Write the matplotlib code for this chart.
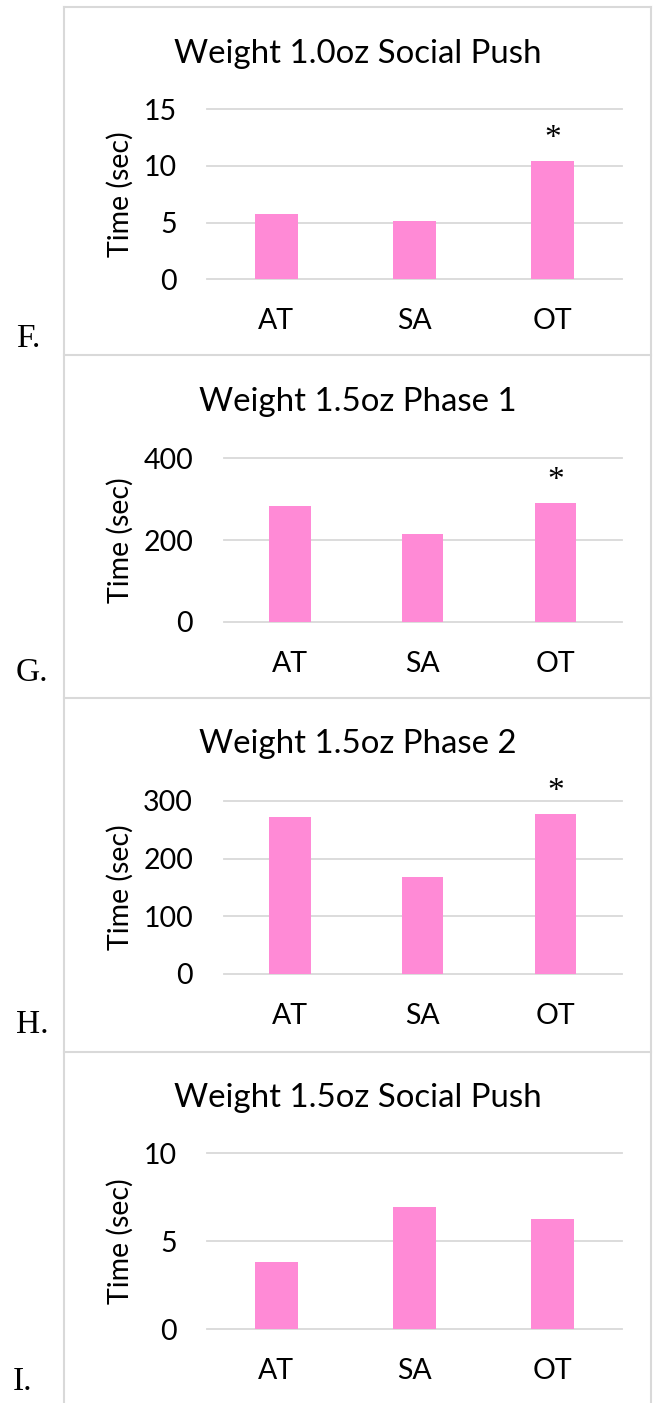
import matplotlib
matplotlib.use("Agg")
import matplotlib.pyplot as plt
from matplotlib.lines import Line2D

plt.rcParams['font.family'] = ['Lato', 'DejaVu Sans']

# data
groups = ["AT", "SA", "OT"]
titles = ["Weight 1.0oz Social Push", "Weight 1.5oz Phase 1",
          "Weight 1.5oz Phase 2", "Weight 1.5oz Social Push"]
letters = ["F.", "G.", "H.", "I."]
f_values = [5.74, 5.15, 10.4]
g_values = [283, 215, 290]
h_values = [272, 168, 277]
i_values = [3.84, 6.93, 6.25]
f_ticks = [0, 5, 10, 15]
g_ticks = [0, 200, 400]
h_ticks = [0, 100, 200, 300]
i_ticks = [0, 5, 10]
stars = [[False, False, True], [False, False, True],
         [False, False, True], [False, False, False]]

W, H = 659, 1403
fig = plt.figure(figsize=(W / 100, H / 100), dpi=100)

pink = "#FF8AD6"
grid_c = "#D9D9D9"

# pixel layout: axes box (left, top, right, bottom), title baseline, letter baseline
layout = [
    ((207.3, 109.3, 621.8, 279.3), 63, 347, 16),
    ((223.6, 458.3, 622.0, 621.7), 411, 681, 16),
    ((223.6, 801.0, 622.0, 974.0), 753, 1033, 16),
    ((207.3, 1153.3, 621.8, 1329.3), 1107, 1390, 13),
]
all_values = [f_values, g_values, h_values, i_values]
all_ticks = [f_ticks, g_ticks, h_ticks, i_ticks]


def px_axes(left, top, right, bottom):
    return fig.add_axes([left / W, 1 - bottom / H, (right - left) / W, (bottom - top) / H])


for k in range(4):
    (l, t, r, b), title_y, letter_y, letter_x = layout[k]
    vals = all_values[k]
    ticks = all_ticks[k]
    ax = px_axes(l, t, r, b)
    x = list(range(len(groups)))
    ax.bar(x, vals, width=0.31, color=pink, zorder=3)
    ax.set_xlim(-0.5, 2.5)
    ax.set_ylim(ticks[0], ticks[-1])
    ax.set_yticks(ticks)
    ax.set_xticks(x)
    ax.set_xticklabels(groups)
    ax.yaxis.grid(True, color=grid_c, lw=1.3)
    for gl in ax.get_ygridlines():
        gl.set_clip_on(False)
    ax.set_axisbelow(True)
    for s in ax.spines.values():
        s.set_visible(False)
    ax.tick_params(axis="y", length=0, pad=22, labelsize=20.5)
    ax.tick_params(axis="x", length=0, pad=21, labelsize=20.5)
    ax.set_ylabel("Time (sec)", fontsize=20.5)
    ax.yaxis.set_label_coords((120 - l) / (r - l), 0.5)
    ax.yaxis.label.set_va("center")

    for i, flag in enumerate(stars[k]):
        if flag:
            ax.annotate("*", (i, vals[i]), xytext=(0, 16), textcoords="offset points",
                        ha="center", va="center", fontsize=24,
                        family="Liberation Serif")

    fig.text(357.5 / W, 1 - title_y / H, titles[k], ha="center", va="baseline",
             fontsize=23.8)
    fig.text(letter_x / W, 1 - letter_y / H, letters[k], ha="left", va="baseline",
             fontsize=24, family="Liberation Serif")

# panel frames
border_kw = dict(color=grid_c, lw=1.5, transform=fig.transFigure)
for xp in [64.3, 651]:
    fig.add_artist(Line2D([xp / W, xp / W], [1 - 7 / H, 0], **border_kw))
for yp in [7, 355, 698.3, 1051.7]:
    fig.add_artist(Line2D([64.3 / W, 651 / W], [1 - yp / H, 1 - yp / H], **border_kw))

fig.savefig("out.png", dpi=100)
